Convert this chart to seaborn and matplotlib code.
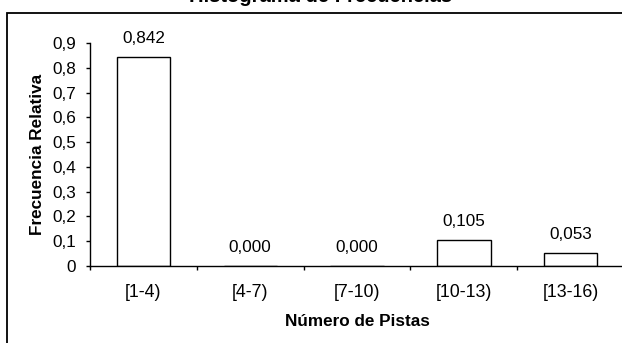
import matplotlib
matplotlib.use("Agg")
import matplotlib.pyplot as plt
import seaborn as sns
import pandas as pd
from matplotlib.patches import Rectangle
from matplotlib.ticker import FuncFormatter, FixedLocator

categories = ["[1-4)", "[4-7)", "[7-10)", "[10-13)", "[13-16)"]
rel_freq = [0.842, 0.000, 0.000, 0.105, 0.053]
y_ticks = [0, 0.1, 0.2, 0.3, 0.4, 0.5, 0.6, 0.7, 0.8, 0.9]

sns.set_theme(style="white")
plt.rcParams['font.family'] = ['Liberation Sans', 'DejaVu Sans']

df = pd.DataFrame({"cat": categories, "val": rel_freq})

FS = 12.3
W, H = 622, 343
fig = plt.figure(figsize=(W / 100, H / 100), dpi=100)
fig.patch.set_facecolor("white")
ax = fig.add_axes([90 / W, 1 - 266 / H, 534 / W, 223 / H])
ax.set_facecolor("white")

sns.barplot(data=df, x="cat", y="val", ax=ax, width=0.5, color="white",
            edgecolor="black", linewidth=1.0, saturation=1)

ax.set_xlim(-0.5, 4.5)
ax.set_ylim(0, 0.9)
ax.set_yticks(y_ticks)

def comma_fmt(v, pos=None):
    if abs(v) < 1e-9:
        return "0"
    return ("%.1f" % v).replace(".", ",")

ax.yaxis.set_major_formatter(FuncFormatter(comma_fmt))

# labels at centers, ticks at category boundaries
ax.tick_params(axis="x", which="major", length=0, pad=13, labelsize=FS + 0.5, colors="black")
ax.xaxis.set_minor_locator(FixedLocator([i - 0.5 for i in range(len(categories) + 1)]))
ax.tick_params(axis="x", which="minor", length=3, width=1, direction="out", color="black", bottom=True)
ax.tick_params(axis="y", which="major", length=3, width=1, direction="out", pad=7,
               labelsize=FS, left=True, colors="black")

for s in ["top", "right"]:
    ax.spines[s].set_visible(False)
for s in ["left", "bottom"]:
    ax.spines[s].set_color("black")
    ax.spines[s].set_linewidth(1)

for c in ax.containers:
    ax.bar_label(c, labels=[("%.3f" % v).replace(".", ",") for v in rel_freq],
                 padding=8, fontsize=FS, color="black")

ax.set_xlabel("Número de Pistas", fontsize=FS, fontweight="bold", color="black")
ax.set_ylabel("Frecuencia Relativa", fontsize=FS, fontweight="bold", color="black")
ax.xaxis.label.set_va("center")
ax.xaxis.set_label_coords(0.5, -(322 - 266) / 223)
ax.yaxis.set_label_coords(-(90 - 38) / 534, 0.5)
ax.yaxis.label.set_va("center")

fig.text(321 / W, 1 - 1.5 / H, "Histograma de Frecuencias", ha="center", va="baseline",
         fontsize=14.5, fontweight="bold", color="black")

fig.patches.append(Rectangle((7 / W, -0.1), 1.2, (1 - 12.5 / H) + 0.1, transform=fig.transFigure,
                             fill=False, edgecolor="black", linewidth=1.3))

fig.savefig("out.png", dpi=100)
